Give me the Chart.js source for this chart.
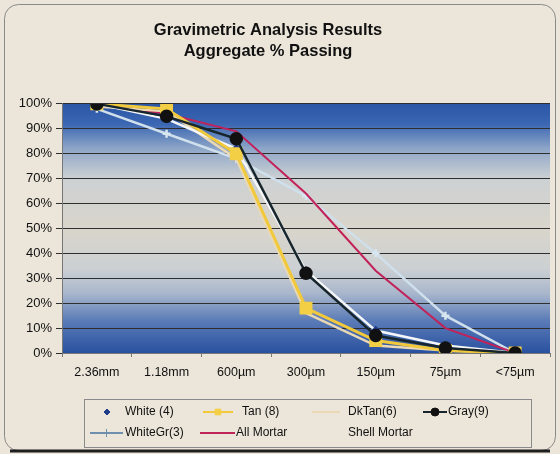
<!DOCTYPE html>
<html>
<head>
<meta charset="utf-8">
<script src="https://cdn.jsdelivr.net/npm/chart.js@4"></script>
<style>
  html, body { margin: 0; padding: 0; background: #ece6da; }
  #wrap { width: 560px; height: 454px; position: relative; }
</style>
</head>
<body>
<div id="wrap"><canvas id="chart" width="560" height="454"></canvas></div>
<script>
// категории (размер сита) и значения % прохода
const categories = ['2.36mm', '1.18mm', '600µm', '300µm', '150µm', '75µm', '<75µm'];
const white4 = [100, 94, 82, 33, 9, 3, 0];
const tan8 = [100, 98, 80, 18, 5, 1, 0];
const dkTan6 = [99, 97, 78, 16, 3, 1, 0];
const gray9 = [100, 95, 86, 32, 7, 2, 0];
const whiteGr3 = [98, 88, 78, 63, 40, 15, 0];
const allMortar = [100, 96, 89, 64, 33, 10, 0];
const shellMortar = [null, null, null, null, null, null, null];
const yTicks = [0, 10, 20, 30, 40, 50, 60, 70, 80, 90, 100];

const FONT = '"Liberation Sans", Arial, sans-serif';

// рамка со скруглёнными углами и фон области графика
const backdrop = {
  id: 'backdrop',
  afterLayout(chart) {
    // заголовок в оригинале смещён влево от центра
    if (chart.titleBlock) {
      chart.titleBlock.left -= 15;
      chart.titleBlock.right -= 15;
    }
  },
  beforeDraw(chart) {
    const { ctx, chartArea: { left, top, right, bottom } } = chart;
    const w = chart.width;
    const h = chart.height;
    ctx.save();
    ctx.fillStyle = '#ece6da';
    ctx.fillRect(0, 0, w, h);
    ctx.strokeStyle = '#8a8a8a';
    ctx.lineWidth = 1;
    ctx.beginPath();
    ctx.roundRect(4.5, 4.5, w - 9, h - 8, 14);
    ctx.stroke();
    // тёмная тень по нижнему краю
    ctx.strokeStyle = '#1e1e1e';
    ctx.lineWidth = 3;
    ctx.beginPath();
    ctx.moveTo(10, h - 3);
    ctx.lineTo(w - 10, h - 3);
    ctx.stroke();

    const g = ctx.createLinearGradient(0, top, 0, bottom);
    g.addColorStop(0, '#2b56a6');
    g.addColorStop(0.08, '#3a66b2');
    g.addColorStop(0.18, '#8ea6c8');
    g.addColorStop(0.3, '#cdd1d3');
    g.addColorStop(0.5, '#d9d5cb');
    g.addColorStop(0.66, '#ccd0d3');
    g.addColorStop(0.76, '#a9b7cc');
    g.addColorStop(0.87, '#5a7bb7');
    g.addColorStop(1, '#2a51a0');
    ctx.fillStyle = g;
    ctx.fillRect(left, top, right - left, bottom - top);
    ctx.restore();
  },
};

// легенда в рамке: 4 колонки, 2 строки
const legendSlots = [
  { x1: 97, x2: 117, tx: 125, y: 412, line: false },
  { x1: 203, x2: 233, tx: 242, y: 412, line: true },
  { x1: 312, x2: 340, tx: 348, y: 412, line: true },
  { x1: 423, x2: 447, tx: 448, y: 412, line: true },
  { x1: 90, x2: 123, tx: 125, y: 433, line: true },
  { x1: 200, x2: 235, tx: 236, y: 433, line: true },
  { x1: 312, x2: 340, tx: 348, y: 433, line: false },
];

const boxLegend = {
  id: 'boxLegend',
  afterDraw(chart) {
    const { ctx } = chart;
    ctx.save();
    ctx.fillStyle = '#ece6da';
    ctx.fillRect(84.5, 399.5, 447, 48);
    ctx.strokeStyle = '#8a8a8a';
    ctx.lineWidth = 1;
    ctx.strokeRect(84.5, 399.5, 447, 48);
    ctx.font = `12px ${FONT}`;
    ctx.textBaseline = 'middle';
    chart.data.datasets.forEach((ds, i) => {
      const s = legendSlots[i];
      const mid = (s.x1 + s.x2) / 2;
      const col = ds.legendColor || ds.borderColor;
      if (s.line) {
        ctx.strokeStyle = col;
        ctx.lineWidth = 2;
        ctx.beginPath();
        ctx.moveTo(s.x1, s.y);
        ctx.lineTo(s.x2, s.y);
        ctx.stroke();
      }
      if (ds.pointRadius > 0) {
        ctx.fillStyle = ds.legendPoint || ds.pointBackgroundColor;
        ctx.strokeStyle = ds.legendPoint || ds.pointBorderColor;
        ctx.lineWidth = 1;
        Chart.helpers.drawPoint(ctx, {
          pointStyle: ds.pointStyle,
          radius: Math.min(ds.pointRadius, 4),
          rotation: 0,
          borderWidth: 1,
        }, mid, s.y);
      }
      ctx.fillStyle = '#111';
      ctx.fillText(ds.label, s.tx, s.y);
    });
    ctx.restore();
  },
};

const datasets = [
  {
    label: 'White (4)',
    data: white4,
    borderColor: '#f4f6f8',
    borderWidth: 2.5,
    pointStyle: 'rectRot',
    pointRadius: 3,
    pointBackgroundColor: '#1f3b8a',
    pointBorderColor: '#1f3b8a',
    order: 3,
  },
  {
    label: 'Tan (8)',
    data: tan8,
    borderColor: '#f1c93a',
    borderWidth: 3,
    pointStyle: 'rect',
    pointRadius: 7,
    pointBackgroundColor: '#f3cf45',
    pointBorderColor: '#f3cf45',
    order: 2,
  },
  {
    label: 'DkTan(6)',
    data: dkTan6,
    borderColor: '#ead9b4',
    borderWidth: 2.5,
    pointRadius: 0,
    order: 4,
  },
  {
    label: 'Gray(9)',
    data: gray9,
    borderColor: '#17262c',
    borderWidth: 2.5,
    pointStyle: 'circle',
    pointRadius: 5.5,
    pointBackgroundColor: '#111',
    pointBorderColor: '#111',
    order: 1,
  },
  {
    label: 'WhiteGr(3)',
    data: whiteGr3,
    borderColor: '#cfe0ec',
    legendColor: '#6f8fae',
    legendPoint: '#6f8fae',
    borderWidth: 2.5,
    pointStyle: 'cross',
    pointRadius: 4,
    pointBackgroundColor: '#d8e6f0',
    pointBorderColor: '#d8e6f0',
    order: 6,
  },
  {
    label: 'All Mortar',
    data: allMortar,
    borderColor: '#c2225a',
    borderWidth: 2,
    pointRadius: 0,
    order: 5,
  },
  {
    label: 'Shell Mortar',
    data: shellMortar,
    borderColor: 'rgba(0,0,0,0)',
    borderWidth: 0,
    pointRadius: 0,
    order: 7,
  },
];

new Chart(document.getElementById('chart'), {
  type: 'line',
  data: { labels: categories, datasets },
  options: {
    responsive: false,
    animation: false,
    layout: { padding: { left: 6, right: 0, top: 12, bottom: 66 } },
    elements: { line: { tension: 0 } },
    plugins: {
      legend: { display: false },
      tooltip: { enabled: false },
      title: {
        display: true,
        text: ['Gravimetric Analysis Results', 'Aggregate % Passing'],
        color: '#111',
        font: { family: FONT, size: 16.5, weight: 'bold', lineHeight: 1.33 },
        padding: { top: 7, bottom: 41 },
      },
    },
    scales: {
      x: {
        offset: true,
        grid: {
          offset: true,
          drawOnChartArea: false,
          drawTicks: true,
          tickLength: 4,
          color: '#777',
        },
        border: { color: '#777' },
        ticks: { color: '#111', font: { family: FONT, size: 12.5 }, padding: 8, maxRotation: 0 },
      },
      y: {
        min: 0,
        max: 100,
        afterBuildTicks: (axis) => { axis.ticks = yTicks.map((v) => ({ value: v })); },
        afterFit: (axis) => { axis.width = 56; },
        grid: { color: '#2e2e2e', lineWidth: 1, drawTicks: true, tickLength: 6 },
        border: { color: '#777' },
        ticks: {
          color: '#111',
          font: { family: FONT, size: 13 },
          padding: 4,
          callback: (v) => `${v}%`,
        },
      },
    },
  },
  plugins: [backdrop, boxLegend],
});
</script>
</body>
</html>
